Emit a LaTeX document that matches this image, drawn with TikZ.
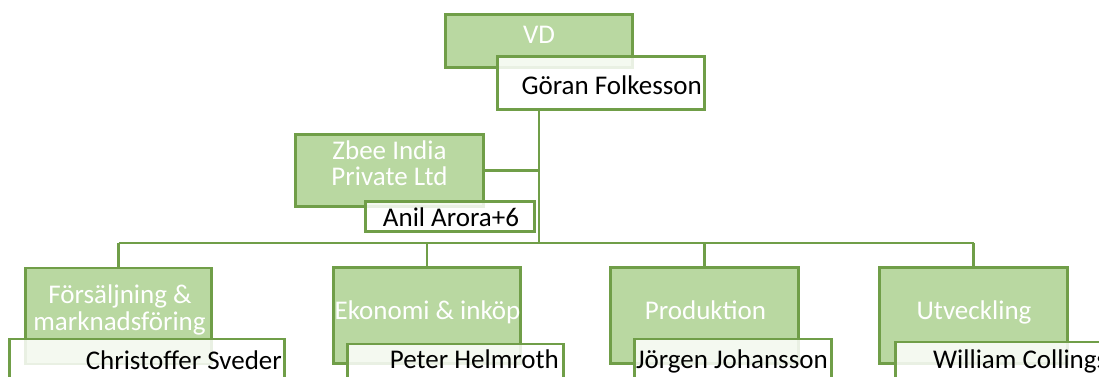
\documentclass[tikz,border=0pt]{standalone}
\usepackage{fontspec}
\setmainfont{Carlito}
\definecolor{gfill}{RGB}{185,216,161}
\definecolor{gline}{RGB}{112,158,72}
\tikzset{
  gbox/.style={draw=gline, fill=gfill, line width=2.8bp, inner sep=0pt},
  pbox/.style={draw=gline, fill=white, fill opacity=0.85, line width=2.8bp, inner sep=0pt},
  conn/.style={draw=gline, line width=2.8bp},
  wtext/.style={text=white, inner sep=0pt, font=\fontsize{27bp}{32bp}\selectfont},
  btext/.style={text=black, inner sep=0pt, font=\fontsize{27bp}{32bp}\selectfont},
}
\begin{document}
\begin{tikzpicture}[x=1bp,y=-1bp]
\clip (0,0) rectangle (1099,376);
\fill[white] (0,0) rectangle (1099,376);
% green boxes
\node[gbox, minimum width=187bp, minimum height=53bp] (vd) at (539,41) {};
\node[gbox, minimum width=188bp, minimum height=72bp] (zbee) at (389.5,170.5) {};
\node[gbox, minimum width=186bp, minimum height=96bp] (fors) at (118.5,316) {};
\node[gbox, minimum width=187bp, minimum height=96bp] (eko) at (427,315.5) {};
\node[gbox, minimum width=188bp, minimum height=96bp] (prod) at (704.5,315.5) {};
\node[gbox, minimum width=188bp, minimum height=96bp] (utv) at (973.5,315.5) {};
% connector points
\coordinate (bus) at (539,243);
\draw[conn] (vd.center |- 0,111) -- (bus);
\draw[conn] (zbee.east) -- (zbee.east -| bus);
\draw[conn] (fors.north |- bus) -- (utv.north |- bus);
\draw[conn] (fors.north) -- (fors.north |- bus);
\draw[conn] (eko.north) -- (eko.north |- bus);
\draw[conn] (prod.north) -- (prod.north |- bus);
\draw[conn] (utv.north) -- (utv.north |- bus);
% person boxes
\node[pbox, minimum width=207bp, minimum height=53bp] (goran) at (601,83) {};
\node[pbox, minimum width=169bp, minimum height=30bp] (anil) at (450,216.5) {};
\node[pbox, minimum width=275bp, minimum height=60bp] (chris) at (147,369) {};
\node[pbox, minimum width=216bp, minimum height=60bp] (peter) at (455.5,374) {};
\node[pbox, minimum width=197bp, minimum height=60bp] (jorgen) at (733,369) {};
\node[pbox, minimum width=263bp, minimum height=60bp] (william) at (1027,372) {};
% texts
\node[wtext, anchor=base] (vdt) at (539,43) {VD};
\node[btext, anchor=base east] (gorant) at (702,94) {Göran Folkesson};
\node[wtext, anchor=base] (zbeet1) at (389.5,159) {Zbee India};
\node[wtext, anchor=base] (zbeet2) at (389.5,185) {Private Ltd};
\node[btext, anchor=base] (anilt) at (451,226) {Anil Arora+6};
\node[wtext, anchor=base] (forst1) at (120,303) {Försäljning \&};
\node[wtext, anchor=base] (forst2) at (119.5,330) {marknadsföring};
\node[btext, anchor=base east] (christ) at (282,369) {Christoffer Sveder};
\node[wtext, anchor=base] (ekot) at (427.5,319) {Ekonomi \& inköp};
\node[btext, anchor=base east] (petert) at (559,368) {Peter Helmroth};
\node[wtext, anchor=base] (prodt) at (705.5,319) {Produktion};
\node[btext, anchor=base east] (jorgent) at (828,368) {Jörgen Johansson};
\node[wtext, anchor=base] (utvt) at (974,319) {Utveckling};
\node[btext, anchor=base west] (williamt) at (933,368) {William Collings};
\end{tikzpicture}
\end{document}
